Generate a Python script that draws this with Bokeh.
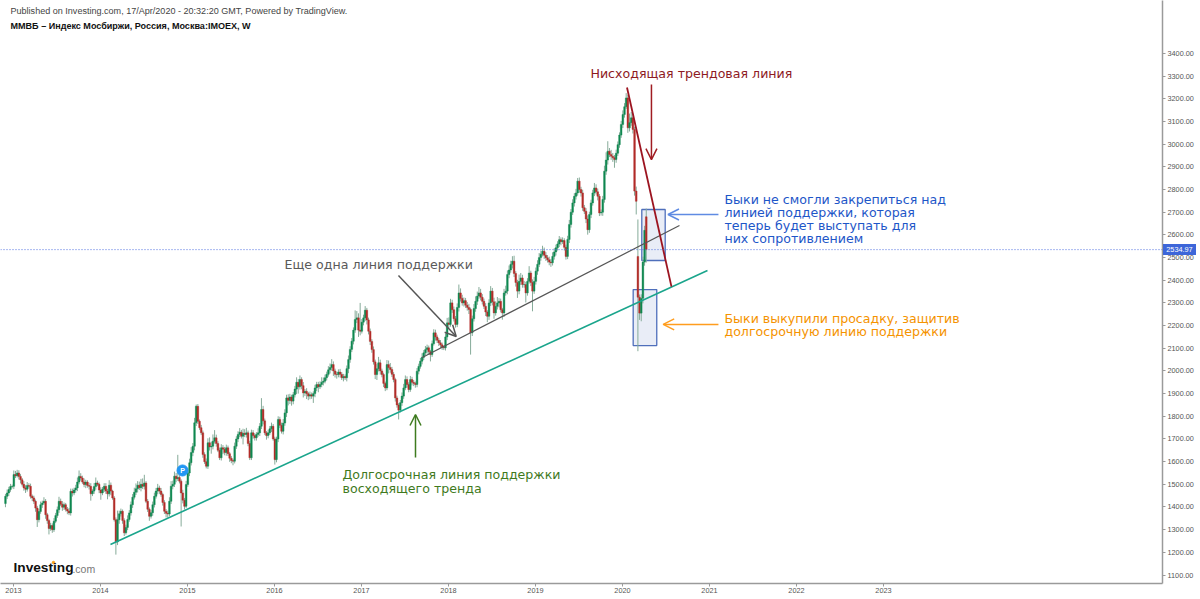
from bokeh.plotting import figure
from bokeh.embed import file_html
from bokeh.layouts import column
from bokeh.resources import INLINE
from bokeh.models import (ColumnDataSource, Label, Arrow, OpenHead, Span, FixedTicker,
                          NumeralTickFormatter, Div)

# --- weekly MOEX index ---
first_week = 2012.908
closes = [
1447,1462,1477,1490,1491,1543,1538,1550,1535,1520,
1500,1484,1478,1495,1491,1447,1440,1425,1395,1344,
1380,1410,1418,1425,1366,1340,1305,1318,1300,1337,
1362,1388,1425,1412,1399,1410,1390,1382,1374,1469,
1462,1475,1484,1510,1535,1528,1510,1499,1510,1495,
1491,1458,1470,1490,1506,1500,1475,1462,1478,1491,
1470,1458,1496,1470,1440,1344,1246,1344,1370,1381,
1340,1286,1310,1345,1374,1410,1443,1465,1480,1496,
1485,1500,1491,1506,1425,1390,1359,1375,1410,1447,
1470,1484,1470,1455,1420,1381,1372,1369,1425,1492,
1500,1536,1525,1530,1514,1462,1430,1403,1499,1550,
1595,1640,1668,1771,1844,1778,1750,1727,1631,1600,
1580,1683,1665,1668,1690,1705,1680,1650,1617,1661,
1655,1640,1661,1635,1615,1605,1602,1668,1700,1720,
1730,1712,1725,1720,1727,1680,1617,1727,1715,1705,
1720,1727,1756,1830,1780,1727,1715,1727,1745,1756,
1700,1609,1700,1786,1760,1734,1770,1815,1881,1870,
1885,1867,1895,1920,1950,1930,1962,1935,1903,1910,
1900,1889,1895,1889,1900,1925,1940,1930,1940,1950,
1955,1970,1985,2005,2015,2028,2000,1985,1984,1995,
1985,1970,1975,1970,2010,2050,2095,2131,2180,2227,
2234,2180,2175,2215,2234,2268,2225,2175,2130,2094,
2040,1984,2010,2036,2000,1984,1945,1925,2028,2015,
2006,1985,1962,1881,1850,1827,1860,1889,1925,1962,
1940,1918,1962,1950,1945,1940,1999,2020,2043,2060,
2080,2094,2102,2085,2072,2120,2168,2150,2135,2124,
2115,2105,2102,2150,2212,2205,2300,2270,2230,2205,
2280,2344,2320,2300,2310,2290,2280,2271,2168,2230,
2275,2307,2330,2344,2325,2307,2285,2260,2241,2300,
2352,2305,2256,2285,2300,2307,2270,2256,2344,2352,
2425,2445,2470,2484,2430,2390,2352,2395,2410,2381,
2381,2344,2395,2432,2390,2352,2395,2440,2470,2500,
2515,2528,2510,2499,2490,2480,2477,2505,2525,2543,
2560,2579,2570,2575,2545,2505,2580,2646,2700,2741,
2770,2785,2837,2800,2785,2720,2704,2670,2623,2690,
2741,2785,2807,2790,2770,2697,2700,2756,2881,2930,
2969,2955,2947,2940,2932,2960,2998,3040,3087,3131,
3165,3204,3072,3095,3116,3065,2793,2748,2325,2255,
2320,2480,2620,2535]
open_gaps = {0: 1415, 378: 2505, 383: 2680}
wick_up = [
10,15,12,12,8,18,16,14,12,10,
8,14,12,15,10,12,8,10,8,10,
12,14,10,18,10,8,8,12,10,14,
12,14,20,12,14,10,8,10,14,12,
12,10,14,20,26,14,10,16,10,8,
12,14,8,16,24,10,8,12,10,14,
14,10,22,12,6,8,10,40,14,12,
8,10,12,18,12,14,14,20,24,18,
16,24,26,36,8,10,8,12,14,16,
14,18,10,14,8,10,10,12,18,22,
16,20,14,100,10,8,14,10,16,20,
18,24,14,22,8,10,8,12,10,10,
14,20,24,20,30,34,14,10,12,16,
12,10,14,10,8,10,8,16,12,14,
18,10,20,18,22,10,12,14,12,10,
10,20,14,50,16,10,8,14,12,16,
10,10,10,14,12,12,18,16,14,16,
14,10,12,14,22,14,18,10,16,10,
14,8,14,10,10,14,12,12,14,22,
16,14,12,16,18,24,14,10,12,12,
14,10,12,10,14,18,14,14,12,40,
30,20,120,14,14,18,10,10,12,10,
14,10,22,26,14,10,8,8,20,18,
20,12,10,8,10,8,12,16,18,18,
14,10,16,12,10,8,14,12,14,18,
12,16,14,10,8,14,16,14,10,10,
12,10,8,16,22,24,18,14,14,12,
18,37,20,16,14,12,14,16,8,14,
20,22,20,26,18,14,12,14,8,16,
22,14,18,22,26,14,12,8,18,24,
18,20,16,22,24,10,12,30,22,14,
16,12,14,30,10,14,20,16,18,20,
16,24,16,14,12,14,14,18,16,14,
12,16,10,14,10,12,16,20,14,16,
14,18,14,16,12,14,12,14,16,12,
14,14,22,16,14,10,12,16,24,34,
44,14,20,14,12,16,14,12,16,18,
16,21,14,40,26,18,12,20,163,12,
18,24,20,36]
wick_down = [
16,12,14,10,8,12,10,8,14,16,
10,12,16,10,10,10,14,12,16,32,
12,10,14,8,18,14,26,10,14,10,
8,10,14,8,16,12,10,14,10,12,
16,10,12,14,10,12,8,12,16,10,
14,30,10,12,14,8,14,30,10,12,
12,24,12,18,8,8,56,14,18,12,
14,14,8,12,10,12,14,10,12,16,
10,16,12,14,8,12,20,10,14,12,
10,14,12,10,14,12,18,16,10,12,
14,12,16,10,10,148,14,14,8,10,
14,12,16,18,14,12,10,10,14,10,
10,12,16,30,14,10,14,8,10,12,
22,12,14,10,16,12,18,10,12,14,
12,10,36,12,14,12,10,10,14,12,
12,10,14,12,16,10,18,12,10,14,
8,22,12,14,12,10,14,12,18,22,
16,20,14,12,22,30,12,16,20,14,
24,18,14,12,30,16,14,24,10,12,
14,10,12,10,16,14,22,14,18,12,
14,10,16,10,16,20,14,12,14,12,
16,30,18,10,14,14,20,14,16,14,
12,20,24,12,16,12,16,14,10,26,
14,12,12,16,12,41,10,14,12,10,
14,12,10,14,12,14,12,14,10,14,
12,10,18,14,30,10,8,16,12,14,
14,12,10,12,14,16,10,14,12,14,
12,18,14,12,16,12,14,20,96,14,
12,14,16,12,14,14,12,18,26,16,
14,16,26,12,14,20,12,30,18,12,
14,16,12,18,16,18,30,14,16,14,
14,42,12,10,16,89,12,14,16,12,
14,10,16,14,12,14,18,12,14,16,
12,14,16,10,14,14,12,16,14,12,
16,14,12,14,16,14,12,18,22,14,
16,12,14,12,18,14,12,16,14,16,
20,12,16,18,36,14,12,14,12,16,
14,10,22,16,14,18,20,58,238,30,
36,22,16,57]

year_ticks = [2013,2014,2015,2016,2017,2018,2019,2020,2021,2022,2023]
price_ticks = list(range(1100, 3500, 100))
last_price = 2534.97

x_view = (2012.851, 2026.207)
y_view = (1062.6, 3633.6)

# trend lines and arrows (year, price)
teal_line = ([2014.115, 2020.977], [1234.5, 2443])
grey_line = ([2017.698, 2020.655], [2059, 2641])
red_line = ([2020.052, 2020.563], [3250, 2372])
box_upper = (2020.222, 2020.491, 2712, 2487)
box_lower = (2020.123, 2020.394, 2359, 2112)

GREEN, RED = "#0f8850", "#b32c28"

weeks = [first_week + i / 52 for i in range(len(closes))]
opens = [open_gaps.get(i, closes[i - 1] if i else closes[0]) for i in range(len(closes))]
highs = [max(o, c) + u for o, c, u in zip(opens, closes, wick_up)]
lows = [min(o, c) - d for o, c, d in zip(opens, closes, wick_down)]
colors = [GREEN if c >= o else RED for o, c in zip(opens, closes)]
src = ColumnDataSource(dict(x=weeks, o=opens, c=closes, h=highs, l=lows, color=colors))

p = figure(width=1200, height=599, output_backend="svg", toolbar_location=None,
           x_range=x_view, y_range=y_view, y_axis_location="right",
           min_border_left=0, min_border_top=0, min_border_right=38, min_border_bottom=16,
           background_fill_color="white", border_fill_color="white", outline_line_color=None)
p.grid.visible = False

for ax in (p.xaxis[0], p.yaxis[0]):
    ax.axis_line_color = "#9a9a9a"
    ax.axis_line_width = 1.5
    ax.major_tick_line_color = "#9a9a9a"
    ax.major_tick_out = 3
    ax.major_tick_in = 0
    ax.minor_tick_line_color = None
    ax.major_label_text_color = "#555555"
    ax.major_label_text_font = "Liberation Sans"
    ax.major_label_text_font_size = "7.3px"
p.xaxis[0].ticker = FixedTicker(ticks=year_ticks)
p.xaxis[0].formatter = NumeralTickFormatter(format="0")
p.xaxis[0].major_label_standoff = 1
p.yaxis[0].ticker = FixedTicker(ticks=price_ticks)
p.yaxis[0].formatter = NumeralTickFormatter(format="0.00")
p.yaxis[0].major_label_standoff = 2

for l, r, t, b in (box_upper, box_lower):
    p.quad(left=[l], right=[r], top=[t], bottom=[b], fill_color="#e9edf7", fill_alpha=1,
           line_color="#4f6fbb", line_width=1.3)

p.add_layout(Span(location=last_price, dimension="width", line_color="#4f6fe0",
                  line_width=1, line_dash="1 2"))

p.segment("x", "h", "x", "l", source=src, line_color="#86ab99", line_width=1)
p.vbar(x="x", top="o", bottom="c", width=0.0195, source=src, fill_color="color", line_color="color", line_width=0.4)

p.line(*teal_line, line_color="#1aa58c", line_width=1.6)
p.line(*grey_line, line_color="#555555", line_width=1.2)
p.line(*red_line, line_color="#9c1420", line_width=1.8)


def arrow(x0, y0, x1, y1, color, size=11):
    p.add_layout(Arrow(end=OpenHead(size=size, line_color=color, line_width=1.5),
                       x_start=x0, y_start=y0, x_end=x1, y_end=y1,
                       line_color=color, line_width=1.5))


arrow(2020.333, 3263, 2020.333, 2932, "#a01c22")
arrow(2021.103, 2690, 2020.523, 2690, "#5f8be3")
arrow(2021.103, 2205, 2020.468, 2205, "#ff9d1e")
arrow(2017.425, 2421, 2018.089, 2152, "#555555")
arrow(2017.621, 1618, 2017.621, 1808, "#3e7b1f")


def label(x, y, text, color, size, font="DejaVu Sans", style="normal"):
    p.add_layout(Label(x=x, y=y, text=text, text_color=color, text_font=font,
                       text_font_size=size, text_baseline="middle", text_font_style=style))


label(2012.966, 3587, "Published on Investing.com, 17/Apr/2020 - 20:32:20 GMT, Powered by TradingView.",
      "#444444", "9.05px", "Liberation Sans")
label(2012.966, 3523, "ММВБ – Индекс Мосбиржи, Россия, Москва:IMOEX, W", "#111111", "9.05px",
      "Liberation Sans", "bold")
label(2019.632, 3312, "Нисходящая трендовая линия", "#8e1a1f", "12.6px")
label(2016.115, 2469, "Еще одна линия поддержки", "#5a5a5a", "12.6px")
label(2016.782, 1543, "Долгосрочная линия поддержки", "#3f7a1d", "12.6px")
label(2016.782, 1481, "восходящего тренда", "#3f7a1d", "12.6px")
for y, t in zip((2756, 2699, 2642, 2584),
                ("Быки не смогли закрепиться над", "линией поддержки, которая",
                 "теперь будет выступать для", "них сопротивлением")):
    label(2021.172, y, t, "#1d56c8", "12.6px")
label(2021.172, 2231, "Быки выкупили просадку, защитив", "#f59300", "12.6px")
label(2021.172, 2174, "долгосрочную линию поддержки", "#f59300", "12.6px")

label(2013.0, 1133, "Investing", "#111111", "13.7px", "Liberation Sans", "bold")
label(2013.678, 1128, ".com", "#777777", "10.5px", "Liberation Sans")
p.scatter([2013.46], [1155], size=2.5, fill_color="#f7a21b", line_color="#f7a21b")

p.scatter([2014.943], [1561], size=11, fill_color="#2196f3", line_color="#2196f3")
label(2014.918, 1561, "P", "#ffffff", "7px", "Liberation Sans", "bold")

# last-price tag: it lies over the axis, where a plot's own annotations are clipped
tag = Div(text=f"{last_price:.2f}", width=33, height=11, margin=0,
          styles={"position": "absolute", "left": "1163px", "top": "244px",
                  "background-color": "#3d66d9", "color": "#ffffff", "font-family": "Liberation Sans",
                  "font-size": "7.3px", "line-height": "11px", "text-align": "center"})

root = column(p, tag, spacing=0, styles={"position": "relative"})
open("out.html", "w").write(file_html(root, INLINE))
